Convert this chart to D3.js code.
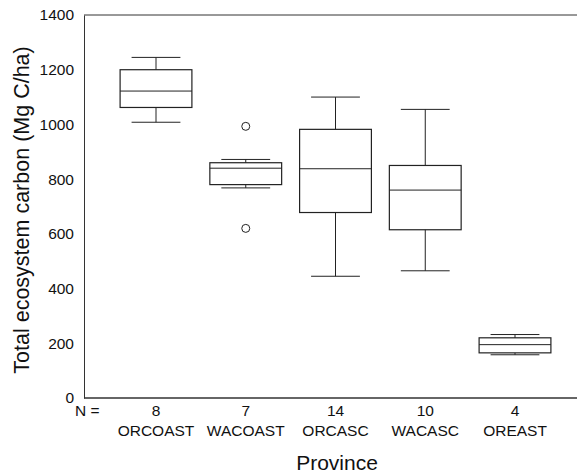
<!DOCTYPE html>
<html>
<head>
<meta charset="utf-8">
<script src="https://cdn.jsdelivr.net/npm/d3@7"></script>
<style>
  body { margin: 0; background: #fff; }
  text { font-family: "Liberation Sans", Arial, sans-serif; fill: #111; }
</style>
</head>
<body>
<svg width="577" height="473"></svg>
<script>
// provinces and their sample sizes
const provinces = ["ORCOAST", "WACOAST", "ORCASC", "WACASC", "OREAST"];
const counts = [8, 7, 14, 10, 4];

// box summaries (Mg C/ha)
const whiskLow = [1008, 768, 445, 465, 158];
const q1 = [1062, 780, 678, 615, 165];
const median = [1122, 840, 838, 760, 195];
const q3 = [1200, 860, 982, 850, 220];
const whiskHigh = [1245, 872, 1100, 1055, 232];

// outliers: [province, value]
const outliers = [["WACOAST", 993], ["WACOAST", 620]];

const yTicks = [0, 200, 400, 600, 800, 1000, 1200, 1400];

let svg = d3.select("svg");
let margin = {top: 15, right: 0, bottom: 75, left: 84};
let width = +svg.attr("width") - margin.left - margin.right,
    height = +svg.attr("height") - margin.top - margin.bottom;

let g = svg.append("g")
  .attr("transform", "translate(" + margin.left + "," + margin.top + ")");

// centres of the boxes, box width = 0.8 of a step
let x = d3.scalePoint().domain(provinces).range([72, 431]);
let y = d3.scaleLinear().domain([0, 1400]).range([height, 0]);
let boxW = x.step() * 0.8, capW = boxW * 0.68;

// axis frame: left, top and bottom lines, no ticks
let yAxis = g.append("g")
  .call(d3.axisLeft(y).tickValues(yTicks).tickFormat(d3.format("d"))
    .tickSize(0).tickPadding(10));
yAxis.select(".domain").attr("stroke", "#333");
yAxis.selectAll("text").style("font-size", "15.5px")
  .style("font-family", "Liberation Sans, Arial, sans-serif").attr("fill", "#111");

g.append("line").attr("x1", 0).attr("x2", width).attr("y1", 0).attr("y2", 0)
  .attr("stroke", "#333");
g.append("line").attr("x1", 0).attr("x2", width).attr("y1", height).attr("y2", height)
  .attr("stroke", "#333").attr("stroke-width", 1.5);

const stats = provinces.map((p, i) => ({
  p: p, n: counts[i], lo: whiskLow[i], q1: q1[i], med: median[i], q3: q3[i], hi: whiskHigh[i]
}));

let box = g.selectAll(".box").data(stats).enter().append("g")
  .attr("class", "box")
  .attr("transform", d => "translate(" + x(d.p) + ",0)");

box.append("line").attr("y1", d => y(d.hi)).attr("y2", d => y(d.q3))
  .attr("stroke", "#222");
box.append("line").attr("y1", d => y(d.q1)).attr("y2", d => y(d.lo))
  .attr("stroke", "#222");
box.append("line").attr("x1", -capW / 2).attr("x2", capW / 2)
  .attr("y1", d => y(d.hi)).attr("y2", d => y(d.hi)).attr("stroke", "#222");
box.append("line").attr("x1", -capW / 2).attr("x2", capW / 2)
  .attr("y1", d => y(d.lo)).attr("y2", d => y(d.lo)).attr("stroke", "#222");
box.append("rect")
  .attr("x", -boxW / 2).attr("width", boxW)
  .attr("y", d => y(d.q3)).attr("height", d => y(d.q1) - y(d.q3))
  .attr("fill", "none").attr("stroke", "#222").attr("stroke-width", 1.2);
box.append("line").attr("x1", -boxW / 2).attr("x2", boxW / 2)
  .attr("y1", d => y(d.med)).attr("y2", d => y(d.med)).attr("stroke", "#222");

g.selectAll(".outlier").data(outliers).enter().append("circle")
  .attr("class", "outlier")
  .attr("cx", d => x(d[0])).attr("cy", d => y(d[1])).attr("r", 4)
  .attr("fill", "none").attr("stroke", "#222");

// N = row and category names
g.append("text").attr("x", -9).attr("y", height + 18)
  .style("font-size", "15.5px").text("N =");
g.selectAll(".nlab").data(stats).enter().append("text")
  .attr("x", d => x(d.p)).attr("y", height + 18).attr("text-anchor", "middle")
  .style("font-size", "15.5px").text(d => d.n);
g.selectAll(".clab").data(stats).enter().append("text")
  .attr("x", d => x(d.p)).attr("y", height + 38).attr("text-anchor", "middle")
  .style("font-size", "15.5px").text(d => d.p);

svg.append("text").attr("x", 337).attr("y", 470).attr("text-anchor", "middle")
  .style("font-size", "21px").text("Province");
svg.append("text").attr("transform", "translate(29,210) rotate(-90)")
  .attr("text-anchor", "middle").style("font-size", "21.5px")
  .text("Total ecosystem carbon (Mg C/ha)");
</script>
</body>
</html>
